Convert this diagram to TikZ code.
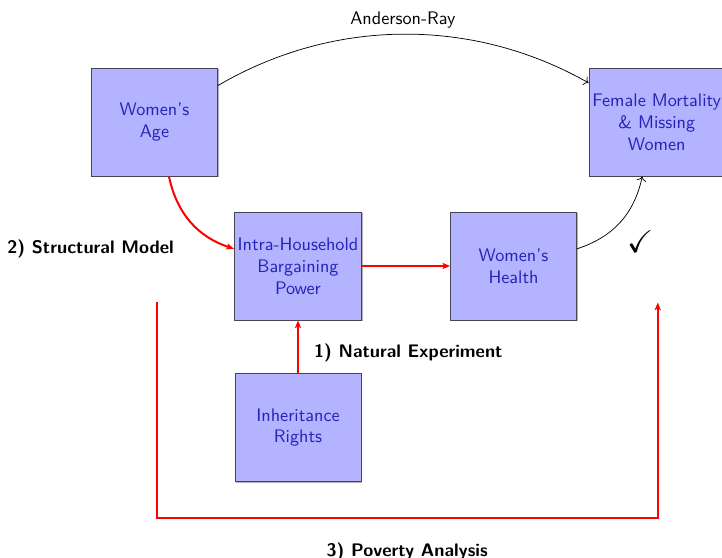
\documentclass[tikz,border=0pt]{standalone}
\usepackage{amssymb}
\usepackage{tikz}
\usetikzlibrary{arrows.meta,positioning,shadows}
\definecolor{boxfill}{RGB}{179,179,255}
\definecolor{boxtext}{RGB}{35,35,185}
\definecolor{boxline}{RGB}{70,70,80}
\tikzset{
  factor/.style={draw=boxline,line width=0.5pt,fill=boxfill,text=boxtext,inner xsep=1.8pt,minimum width=69.3pt,minimum height=59.4pt,align=center,font=\sffamily,drop shadow={shadow xshift=0.6pt,shadow yshift=-0.6pt,opacity=0.6}},
  link/.style={->,draw=black},
  redlink/.style={-{Stealth[length=4.2pt,width=3.4pt,inset=1pt]},draw=red,line width=1.1pt},
  lbl/.style={font=\sffamily\bfseries}
}

\begin{document}
\begin{tikzpicture}[node distance=29pt,font=\sffamily]
  \useasboundingbox (-163.9pt,-160.6pt) rectangle (233.2pt,146.3pt);
  \node[factor] (intra) {Intra-Household\\Bargaining\\Power};
  \node[factor,right=48.4pt of intra] (health) {Women's\\Health};
  \node[factor,below=of intra] (inh) {Inheritance\\Rights};
  \node[factor,above left=19.25pt and 8.8pt of intra] (age) {Women's\\Age};
  \node[factor,above right=19.25pt and 6.4pt of health] (fm) {Female Mortality\\\& Missing\\Women};
  \draw[link] (age) to[bend left=30,looseness=0.92] node[above] {Anderson-Ray} (fm);
  \draw[redlink] (age) to[bend right=30] (intra);
  \draw[redlink] (intra) -- (health);
  \draw[link] (health) to[bend right=30] (fm);
  \draw[redlink] (inh) -- node[lbl,right=5pt,yshift=-3.3pt] (natexp) {1) Natural Experiment} (intra);
  \node[lbl,left=29.5pt of intra,yshift=9.5pt] (smodel) {2) Structural Model};
  \node[font=\LARGE] (chk) at ([xshift=-9pt,yshift=-65.7pt]fm.center) {$\checkmark$};
  % poverty loop
  \coordinate (povL) at ([xshift=1.2pt,yshift=-68.75pt]age.south);
  \coordinate (povR) at ([xshift=0.6pt,yshift=-69.3pt]fm.south);
  \coordinate (povB) at ([yshift=-19.8pt]inh.south);
  \draw[redlink] (povL) -- (povL |- povB) -- node[lbl,below=10pt] (poverty) {3) Poverty Analysis} (povR |- povB) -- (povR);
\end{tikzpicture}
\end{document}
